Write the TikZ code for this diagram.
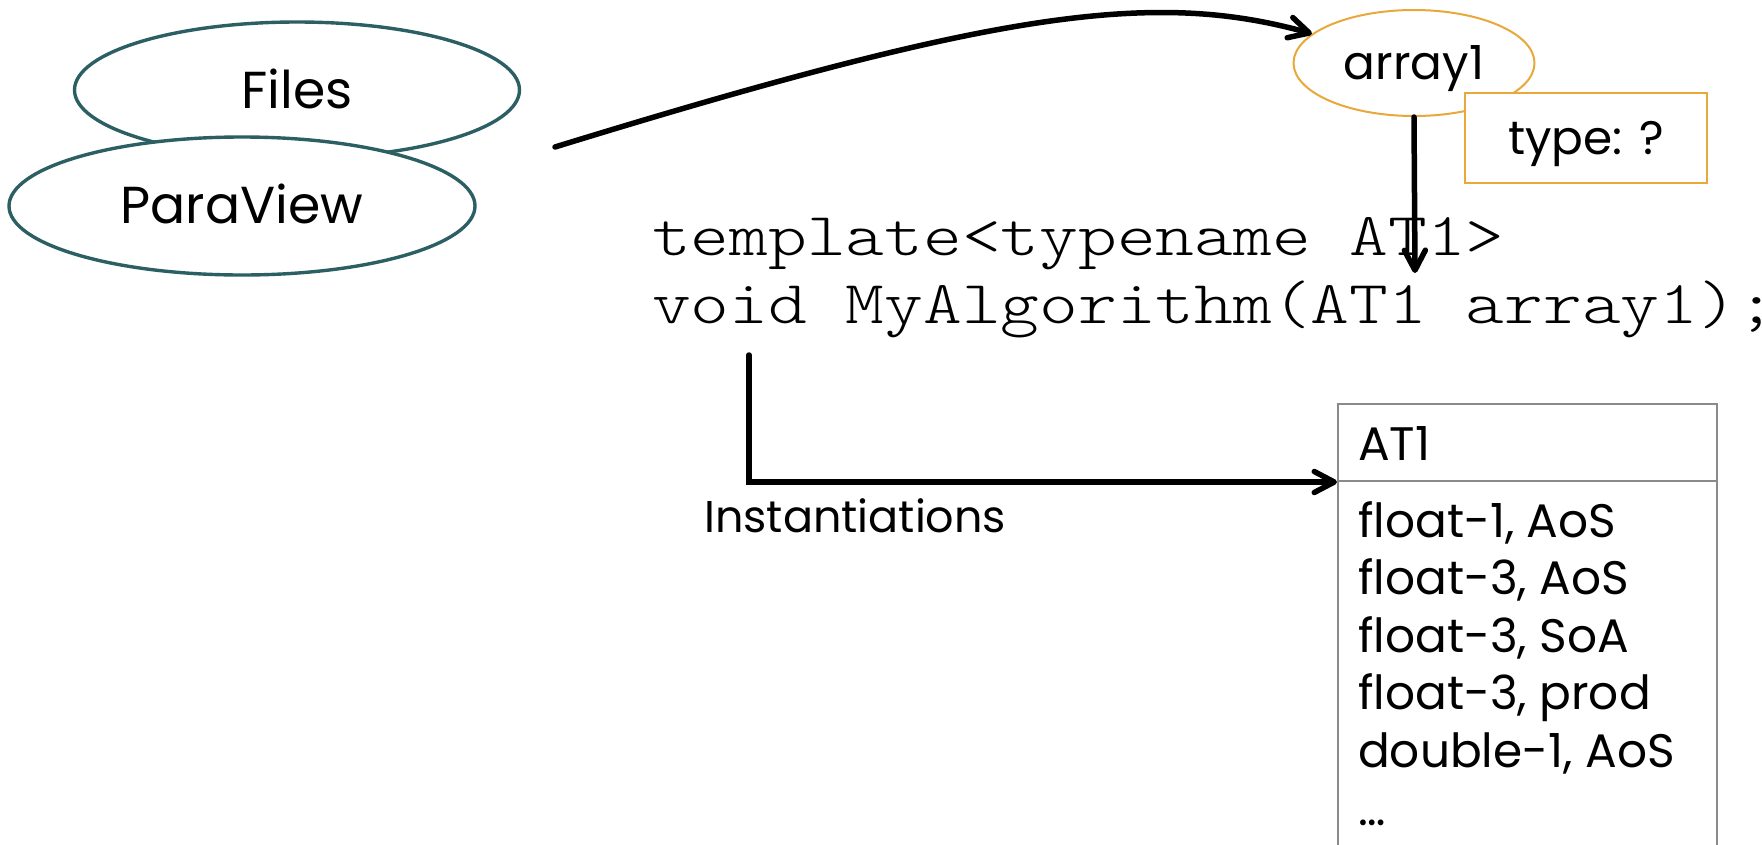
\documentclass[tikz,border=0pt]{standalone}
\usepackage{fontspec}
\setmainfont{Poppins}
\setmonofont{lmmonolt10-regular.otf}[FakeStretch=1.21]
\usetikzlibrary{arrows.meta,shapes.geometric}

\definecolor{slateteal}{RGB}{44,95,99}
\definecolor{amber}{RGB}{232,168,58}
\definecolor{rulegray}{RGB}{138,138,138}

\begin{document}
\begin{tikzpicture}[x=1pt,y=-1pt,
  bigfont/.style={font=\fontsize{52}{60}\selectfont},
  midfont/.style={font=\fontsize{47}{56}\selectfont},
  codefont/.style={font=\fontsize{61}{70}\selectfont\ttfamily},
  source/.style={ellipse, draw=slateteal, line width=3.4pt, fill=white,
    inner sep=0pt, bigfont},
  argument/.style={ellipse, draw=amber, line width=2pt, fill=white,
    inner sep=0pt, midfont},
  tag/.style={rectangle, draw=amber, line width=2pt, fill=white,
    inner sep=0pt, midfont},
  cell/.style={rectangle, draw=rulegray, line width=2pt, inner sep=0pt,
    anchor=north west, minimum width=379pt},
  plain/.style={inner sep=0pt, anchor=base west},
  link/.style={line width=5.5pt, line cap=round,
    -{Straight Barb[length=20pt,width=21pt,round]}}
]
\useasboundingbox (0,0) rectangle (1762,844);

% data sources
\node[source, minimum width=445pt, minimum height=136pt,
      text height=38pt, text depth=2pt] (files) at (297,90) {Files};
\node[source, minimum width=466pt, minimum height=138pt,
      text height=36pt, text depth=2pt] (paraview) at (242,206) {ParaView};

% the templated argument
\node[argument, minimum width=241pt, minimum height=106pt,
      text height=36pt, text depth=4pt] (array1) at (1414,63) {array1};
\node[tag, minimum width=242pt, minimum height=90pt,
      text height=36pt, text depth=4pt] (typebox) at (1586,138) {type: ?};

% function signature
\node[plain, codefont] (tpl) at (652,255) {template<typename AT1>};
\node[plain, codefont] (decl) at (652,323) {void MyAlgorithm(AT1 array1);};

% table of instantiations
\node[cell, minimum height=77pt] (hdr) at (1337,403) {};
\node[cell, minimum height=400pt] (body) at (1337,480) {};
\node[plain, midfont] (hdrtext) at (1358,460) {AT1};
\foreach \row [count=\i] in {{float-1, AoS},{float-3, AoS},{float-3, SoA},
    {float-3, prod},{double-1, AoS},{…}}
  \node[plain, midfont] (row\i) at (1358,{537+(\i-1)*57.6}) {\row};

\node[plain, font=\fontsize{44.5}{52}\selectfont] (inst) at (704,532) {Instantiations};

% connectors
\coordinate (flowsrc) at (555,147);
\coordinate (argtype) at (1415,273);
\coordinate (instsrc) at (749,355);
\draw[link] (flowsrc) .. controls (1000,10) and (1155,-10) .. (array1.164);
\draw[link] (array1.south) -- (argtype);
\draw[link] (instsrc) |- (hdr.south west);
\end{tikzpicture}
\end{document}
